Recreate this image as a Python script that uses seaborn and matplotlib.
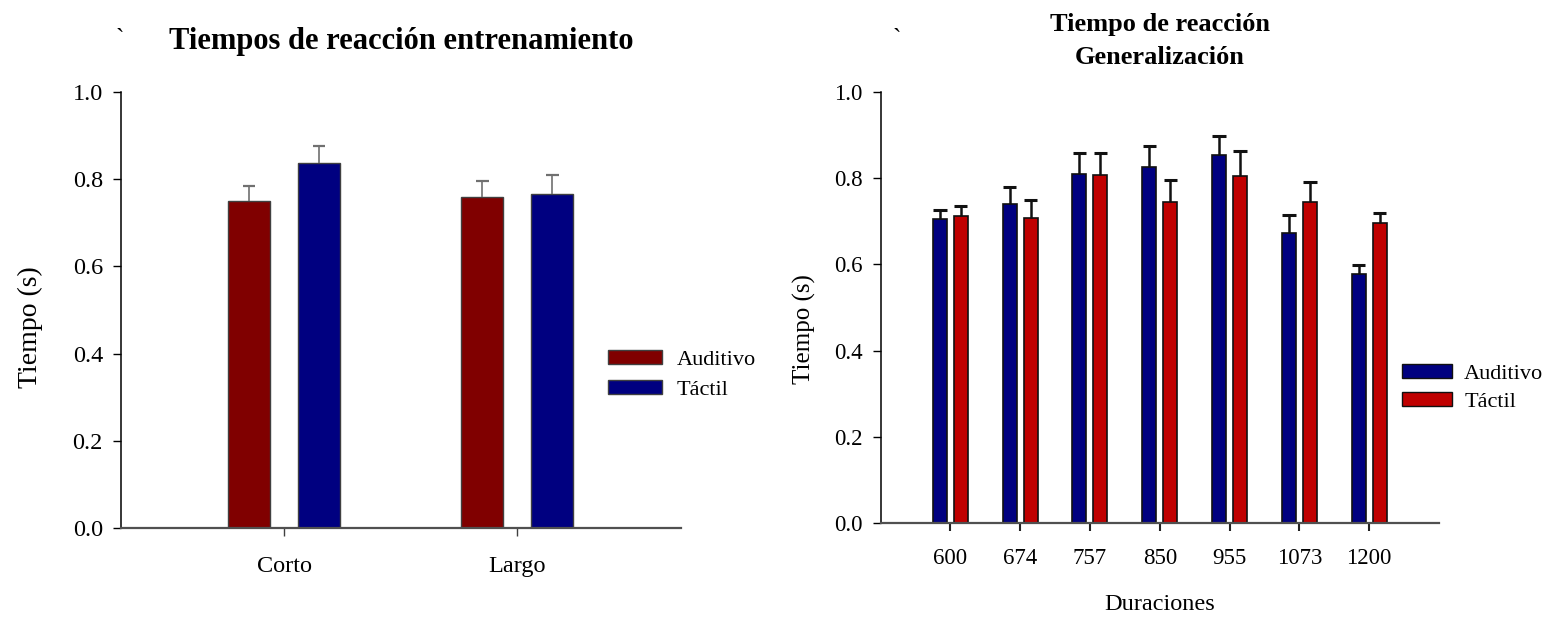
import matplotlib
matplotlib.use("Agg")
import matplotlib.pyplot as plt
import seaborn as sns
import pandas as pd
from matplotlib.patches import Patch

sns.set_theme(style="ticks")
plt.rcParams['font.family'] = ['Liberation Serif', 'DejaVu Serif']
plt.rcParams['text.color'] = 'black'
plt.rcParams['axes.labelcolor'] = 'black'
plt.rcParams['xtick.color'] = 'black'
plt.rcParams['ytick.color'] = 'black'

# ---- data: training (left) ----
cond_left = ["Corto", "Largo"]
aud_left = [0.750, 0.759]
tac_left = [0.837, 0.765]
aud_left_err = [0.034, 0.038]
tac_left_err = [0.039, 0.044]

# ---- data: generalization (right) ----
durations = ["600", "674", "757", "850", "955", "1073", "1200"]
aud_right = [0.705, 0.739, 0.810, 0.826, 0.853, 0.672, 0.577]
aud_right_err = [0.021, 0.040, 0.049, 0.049, 0.045, 0.043, 0.022]
tac_right = [0.713, 0.707, 0.808, 0.744, 0.804, 0.744, 0.697]
tac_right_err = [0.023, 0.043, 0.051, 0.051, 0.060, 0.047, 0.022]

groups = ["Auditivo", "Táctil"]
yticks = [0.0, 0.2, 0.4, 0.6, 0.8, 1.0]

df_left = pd.DataFrame({
    "cond": cond_left * 2,
    "grupo": [groups[0]] * len(cond_left) + [groups[1]] * len(cond_left),
    "t": aud_left + tac_left,
})
df_right = pd.DataFrame({
    "dur": durations * 2,
    "grupo": [groups[0]] * len(durations) + [groups[1]] * len(durations),
    "t": aud_right + tac_right,
})

W, H = 1562, 620
fig = plt.figure(figsize=(W / 100, H / 100), dpi=100)
axL = fig.add_axes([121 / W, 92 / H, 559.7 / W, 436 / H])
axR = fig.add_axes([880.5 / W, 97 / H, 558.5 / W, 431 / H])

pal_left = {"Auditivo": "#800000", "Táctil": "#000080"}
pal_right = {"Auditivo": "#000080", "Táctil": "#C00000"}

sns.barplot(data=df_left, x="cond", y="t", hue="grupo", hue_order=groups,
            palette=pal_left, width=0.6, gap=0.4, errorbar=None, legend=False,
            edgecolor="#404040", linewidth=1.0, saturation=1, ax=axL)
sns.barplot(data=df_right, x="dur", y="t", hue="grupo", hue_order=groups,
            palette=pal_right, width=0.6, gap=0.33, errorbar=None, legend=False,
            edgecolor="#101010", linewidth=1.2, saturation=1, ax=axR)


def add_err(ax, errs_by_hue, color, lw, capw_frac):
    for cont, errs in zip(ax.containers, errs_by_hue):
        for bar, e in zip(cont, errs):
            xc = bar.get_x() + bar.get_width() / 2
            h = bar.get_height()
            hw = bar.get_width() * capw_frac / 2
            ax.vlines(xc, h, h + e, color=color, lw=lw, zorder=1)
            ax.hlines(h + e, xc - hw, xc + hw, color=color, lw=lw + 0.4, zorder=1)


add_err(axL, [aud_left_err, tac_left_err], "#707070", 1.2, 0.29)
add_err(axR, [aud_right_err, tac_right_err], "#111111", 1.8, 0.95)

for ax in (axL, axR):
    ax.set_ylim(0, 1.0)
    ax.set_yticks(yticks)
    ax.set_yticklabels([f"{v:.1f}" for v in yticks])
    sns.despine(ax=ax)
    ax.spines["left"].set_color("black")
    ax.spines["left"].set_linewidth(1.1)
    ax.spines["bottom"].set_color("#505050")
    ax.spines["bottom"].set_linewidth(1.6)
    ax.tick_params(axis="y", direction="out", length=6, width=1, color="black", pad=7)
    ax.set_xlabel("")

axL.set_xlim(-0.7, 1.7)
axR.set_xlim(-1.0, 7.0)

axL.tick_params(axis="y", labelsize=17.5)
axL.tick_params(axis="x", direction="out", length=6, width=1, color="#404040",
                labelsize=17.5, pad=14)
axR.tick_params(axis="y", labelsize=16.5)
axR.tick_params(axis="x", direction="out", length=6, width=1.5, color="#222222",
                labelsize=16.5, pad=12)

axL.set_ylabel("Tiempo (s)", fontsize=20)
axL.yaxis.set_label_coords(-0.14, 0.46)
axR.set_ylabel("Tiempo (s)", fontsize=18)
axR.yaxis.set_label_coords(-0.115, 0.45)
axR.set_xlabel("Duraciones", fontsize=17.5)
axR.xaxis.set_label_coords(0.5, -0.165)

axL.set_title("Tiempos de reacción entrenamiento", fontsize=22, fontweight="bold", pad=31)
axR.set_title("Tiempo de reacción\nGeneralización", fontsize=19, fontweight="bold",
              pad=20, linespacing=1.55)

fig.text(120 / W, 1 - 40 / H, "`", fontsize=18, ha="center", va="center")
fig.text(897 / W, 1 - 40 / H, "`", fontsize=18, ha="center", va="center")

hL = [Patch(facecolor=pal_left[g], edgecolor="#404040", lw=1) for g in groups]
axL.legend(hL, groups, loc="center left", bbox_to_anchor=(608 / W, 1 - 375 / H),
           bbox_transform=fig.transFigure, frameon=False, fontsize=16,
           handlelength=2.45, handleheight=0.6, handletextpad=0.65,
           labelspacing=0.45, borderpad=0, borderaxespad=0)
hR = [Patch(facecolor=pal_right[g], edgecolor="#101010", lw=1) for g in groups]
axR.legend(hR, groups, loc="center left", bbox_to_anchor=(1402 / W, 1 - 388 / H),
           bbox_transform=fig.transFigure, frameon=False, fontsize=16,
           handlelength=2.25, handleheight=0.6, handletextpad=0.55,
           labelspacing=0.35, borderpad=0, borderaxespad=0)

fig.savefig("out.png", dpi=100)
